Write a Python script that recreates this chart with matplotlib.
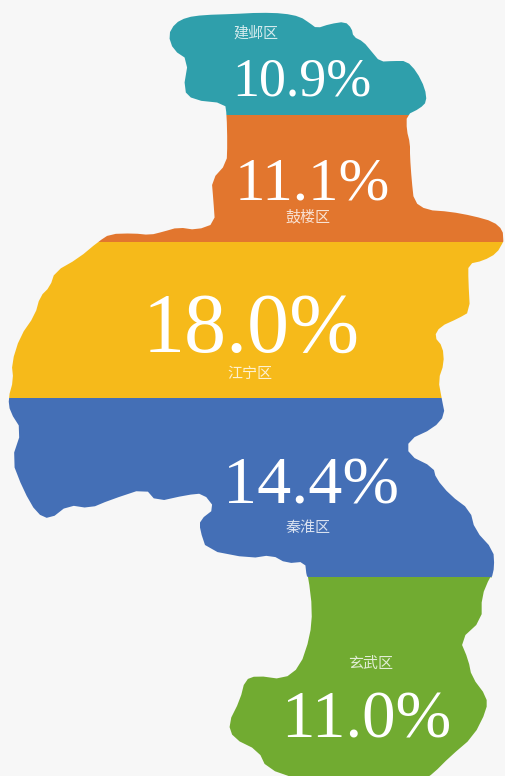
import numpy as np
import matplotlib
matplotlib.use("Agg")
import matplotlib.pyplot as plt
from matplotlib.patches import Polygon

districts = ["建邺区", "鼓楼区", "江宁区", "秦淮区", "玄武区"]
shares = [10.9, 11.1, 18.0, 14.4, 11.0]
colors = ["#2F9FAB", "#E2762E", "#F6BA1A", "#446FB6", "#71AB31"]
band_edges = [0, 115, 241.5, 398, 576.5, 776]
value_x = [302, 312, 251, 311, 366]
value_y = [96, 200, 352, 503, 738]
value_px = [54, 61, 84, 68, 67]
label_x = [256, 308, 250, 308, 371]
label_y = [33, 217, 374, 528, 664]

# outline of the map in three zoomed crops
top_crop = [(55,105),(75,70),(110,52),(160,45),(250,42),(330,38),(400,40),(450,50),(480,70),(500,85),
            (540,72),(585,65),(605,85),(610,110),(640,125),(665,155),(690,185),(730,183),(770,183),
            (800,215),(825,265),(830,305),(810,325),(770,345),(770,390),(780,430),(780,470),(785,540),
            (792,605),(830,630),(900,635),(970,648),(1030,665),(1058,690),(1060,722)]
mid_right_crop = [(1510,35),(1490,70),(1450,92),(1405,102),(1405,150),(1410,245),(1375,265),(1320,290),
                  (1303,320),(1328,350),(1332,400),(1315,450),(1325,505),(1335,555),(1300,595),(1225,630),
                  (1225,675),(1300,712),(1308,745),(1350,795),(1410,840),(1425,900),(1480,960),(1483,1010),
                  (1475,1045)]
low_crop = [(870,50),(845,110),(845,180),(780,240),(805,300),(815,350),(860,410),(860,450),(820,530),
            (750,590),(700,640),(670,660),(300,660),(200,625),(175,572),(100,535),(85,490),(120,420),
            (135,360),(170,347),(250,358),(300,320),(330,230),(337,150),(325,50)]
mid_left_crop = [(920,1040),(915,995),(860,1000),(815,975),(750,985),(620,960),(600,900),(600,870),(645,835),
                 (610,790),(560,795),(470,815),(435,775),(330,810),(270,835),(205,825),(150,868),(110,850),
                 (70,780),(35,690),(65,600),(30,545),(25,505),(40,450),(35,400),(60,320),(105,255),(120,200),
                 (150,170),(165,125),(235,85),(295,35),(330,12),(400,10)]
top_left_crop = [(0,705),(40,695),(85,682),(140,690),(195,670),(190,600),(185,540),(230,490),(232,430),
                 (230,345),(225,310),(130,300),(100,270),(115,180),(70,150)]

def crop_to_px(points, x0, y0):
    return [(x0 + x / 3, y0 + y / 3) for x, y in points]

outline = np.array(crop_to_px(top_crop, 150, 0) + crop_to_px(mid_right_crop, 0, 230)
                   + crop_to_px(low_crop, 200, 560) + crop_to_px(mid_left_crop, 0, 230)
                   + crop_to_px(top_left_crop, 150, 0))

def soften(pts, rounds=2):
    for _ in range(rounds):
        nxt = np.roll(pts, -1, axis=0)
        pts = np.column_stack([0.75 * pts + 0.25 * nxt, 0.25 * pts + 0.75 * nxt]).reshape(-1, 2)
    return pts

fig = plt.figure(figsize=(5.05, 7.76), dpi=100, facecolor="#F7F7F7")
ax = fig.add_axes([0, 0, 1, 1])
ax.set_xlim(0, 505)
ax.set_ylim(776, 0)
ax.axis("off")

clip = Polygon(soften(outline, rounds=1), closed=True, transform=ax.transData, facecolor="none", edgecolor="none")
ax.add_patch(clip)
edges = np.array(band_edges)
bars = ax.barh((edges[:-1] + edges[1:]) / 2, 505, height=np.diff(edges), left=0, color=colors, linewidth=0)
for b in bars:
    b.set_clip_path(clip)

for s, x, y, px in zip(shares, value_x, value_y, value_px):
    ax.text(x, y, f"{s:.1f}%", color="white", family="Liberation Serif", fontsize=px * 0.72,
            ha="center", va="baseline")
for d, x, y in zip(districts, label_x, label_y):
    ax.text(x, y, d, color="white", alpha=0.8, family=["Noto Sans CJK SC", "DejaVu Sans"], fontsize=10.8,
            ha="center", va="center")

fig.savefig("out.png", dpi=100, facecolor=fig.get_facecolor())
